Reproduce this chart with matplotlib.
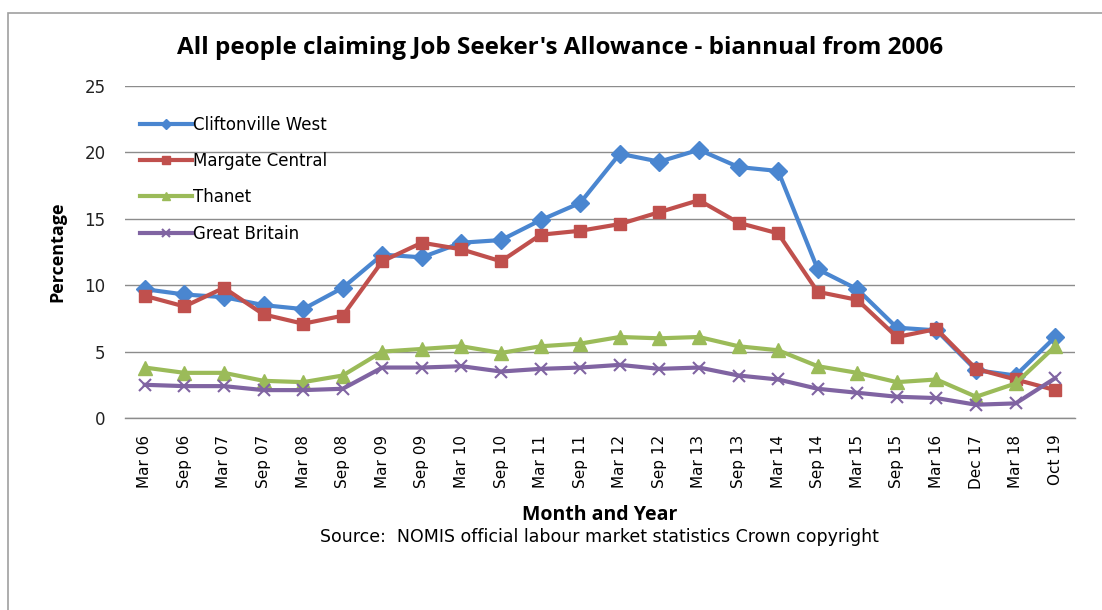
import matplotlib.pyplot as plt
from matplotlib.patches import Rectangle

# Half-yearly claimant rates (%) by area
months = ["Mar 06", "Sep 06", "Mar 07", "Sep 07", "Mar 08", "Sep 08", "Mar 09", "Sep 09",
          "Mar 10", "Sep 10", "Mar 11", "Sep 11", "Mar 12", "Sep 12", "Mar 13", "Sep 13",
          "Mar 14", "Sep 14", "Mar 15", "Sep 15", "Mar 16", "Dec 17", "Mar 18", "Oct 19"]
cliftonville_west = [9.7, 9.3, 9.1, 8.5, 8.2, 9.8, 12.3, 12.1, 13.2, 13.4, 14.9, 16.2,
                     19.9, 19.3, 20.2, 18.9, 18.6, 11.2, 9.7, 6.8, 6.6, 3.6, 3.2, 6.1]
margate_central = [9.2, 8.4, 9.8, 7.8, 7.1, 7.7, 11.8, 13.2, 12.7, 11.8, 13.8, 14.1,
                   14.6, 15.5, 16.4, 14.7, 13.9, 9.5, 8.9, 6.1, 6.7, 3.7, 2.9, 2.1]
thanet = [3.8, 3.4, 3.4, 2.8, 2.7, 3.2, 5.0, 5.2, 5.4, 4.9, 5.4, 5.6,
          6.1, 6.0, 6.1, 5.4, 5.1, 3.9, 3.4, 2.7, 2.9, 1.6, 2.6, 5.4]
great_britain = [2.5, 2.4, 2.4, 2.1, 2.1, 2.2, 3.8, 3.8, 3.9, 3.5, 3.7, 3.8,
                 4.0, 3.7, 3.8, 3.2, 2.9, 2.2, 1.9, 1.6, 1.5, 1.0, 1.1, 3.0]

plt.rcParams['font.family'] = ['DejaVu Sans']
heading = ['Open Sans', 'DejaVu Sans']

fig = plt.figure(figsize=(11.02, 6.10), dpi=100)
ax = fig.add_axes([125 / 1102, 1 - 418 / 610, 950 / 1102, 332 / 610])

# outer chart frame
fig.patches.append(Rectangle((8 / 1102, -0.1), 1.2, 1 - 13 / 610 + 0.1,
                             transform=fig.transFigure, fill=False,
                             edgecolor='#a0a0a0', linewidth=1.2))

x = range(len(months))
ax.plot(x, cliftonville_west, color='#4a86d0', lw=3, marker='D', ms=9,
        label='Cliftonville West')
ax.plot(x, margate_central, color='#c0504d', lw=3, marker='s', ms=9,
        label='Margate Central')
ax.plot(x, thanet, color='#9bbb59', lw=3, marker='^', ms=10,
        label='Thanet')
ax.plot(x, great_britain, color='#8064a2', lw=3, marker='x', ms=9, mew=1.5,
        label='Great Britain')

ax.set_xlim(-0.5, len(months) - 0.5)
ax.set_ylim(0, 25)
ax.set_yticks([0, 5, 10, 15, 20, 25])
ax.set_xticks(list(x))
ax.set_xticklabels(months, rotation=90, fontsize=11)
ax.tick_params(axis='y', labelsize=12, length=0, pad=14, labelcolor='#222222')
ax.tick_params(axis='x', length=0, pad=12)
ax.grid(axis='y', color='#8c8c8c', linewidth=1.0)
ax.set_axisbelow(True)
for side in ['top', 'right', 'left']:
    ax.spines[side].set_visible(False)
ax.spines['bottom'].set_color('#8c8c8c')
ax.spines['bottom'].set_linewidth(1.0)

ax.set_ylabel('Percentage', fontsize=13, fontweight='bold', family=heading,
              labelpad=13)
ax.set_xlabel('Month and Year', fontsize=14, fontweight='bold', family=heading,
              labelpad=12)
fig.text(599 / 1102, 1 - 537 / 610,
         'Source:  NOMIS official labour market statistics Crown copyright',
         ha='center', va='center', fontsize=12.5)
fig.text(560 / 1102, 1 - 48 / 610,
         "All people claiming Job Seeker's Allowance - biannual from 2006",
         ha='center', va='center', fontsize=17.5, fontweight='bold',
         family=heading)

ax.legend(loc='upper left', bbox_to_anchor=(0.0084, 0.931), frameon=False,
          fontsize=12, labelspacing=1.1, handlelength=3.15,
          handletextpad=0.05, borderaxespad=0.0, markerscale=0.6)

fig.savefig('out.png', dpi=100)
